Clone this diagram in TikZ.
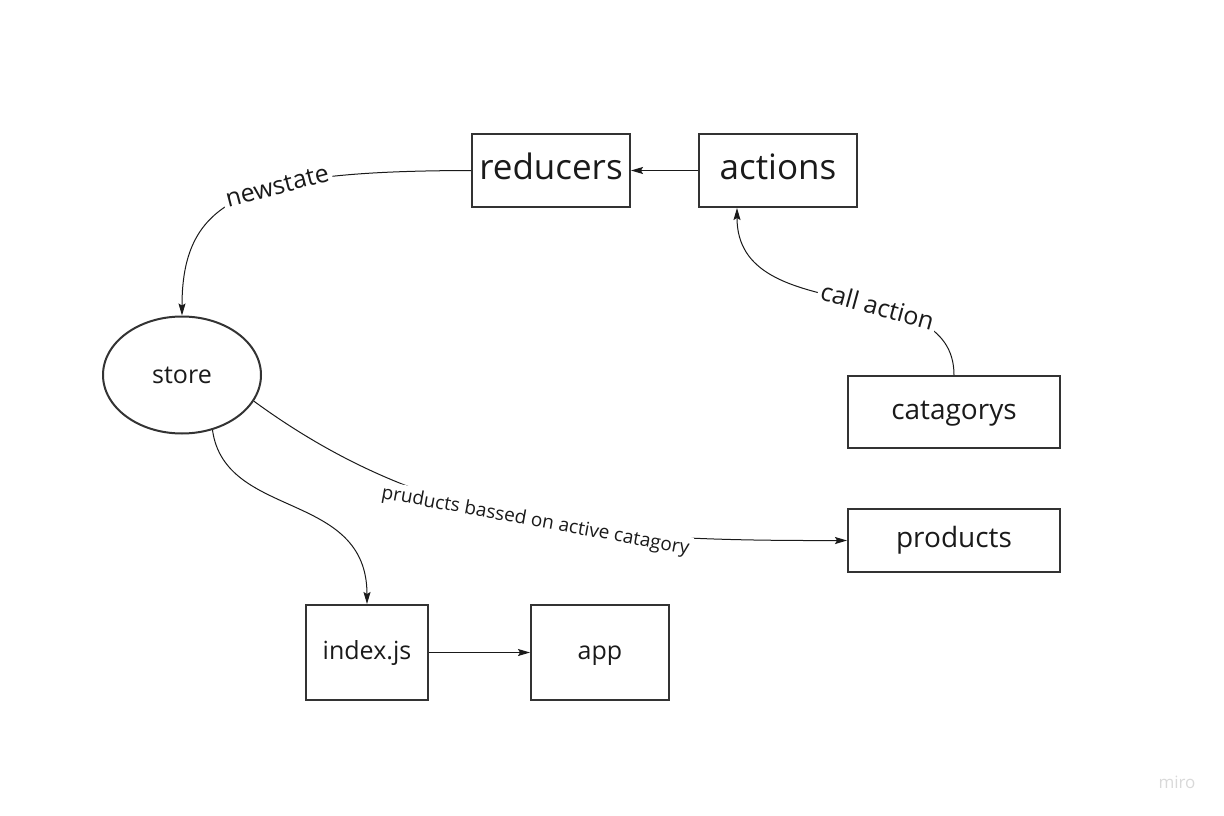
\documentclass[tikz,border=0pt]{standalone}
\usepackage{fontspec}
\setmainfont{Open Sans}
\usepackage{tikz}
\usetikzlibrary{arrows.meta,positioning,shapes.geometric}

\definecolor{inkgray}{HTML}{1A1A1A}
\definecolor{boxgray}{HTML}{333333}

\begin{document}
\begin{tikzpicture}[x=1pt, y=-1pt,
    block/.style={rectangle, draw=boxgray, line width=2pt, inner sep=0pt, text=inkgray},
    blob/.style={ellipse, draw=boxgray, line width=2pt, inner sep=0pt, text=inkgray},
    hugetext/.style={font=\fontsize{35}{40}\selectfont, text height=26.6pt, text depth=8.4pt},
    bigtext/.style={font=\fontsize{28}{32}\selectfont, text height=21.3pt, text depth=6.7pt},
    midtext/.style={font=\fontsize{25}{30}\selectfont, text height=19pt, text depth=6pt},
    lbl/.style={fill=white, inner sep=3pt, text=inkgray, sloped}]

    \useasboundingbox (0,0) rectangle (1224,816);

    % Nodes
    \node[block, hugetext, minimum width=158pt, minimum height=73pt] (reducers) at (551,170.5) {reducers};
    \node[block, hugetext, minimum width=158pt, minimum height=73pt] (actions) at (778,170.5) {actions};
    \node[blob, font=\fontsize{25}{30}\selectfont, minimum width=158pt, minimum height=117pt] (store) at (182,375) {store};
    \node[block, bigtext, minimum width=212pt, minimum height=72pt] (catagorys) at (954,412) {catagorys};
    \node[block, bigtext, minimum width=212pt, minimum height=63pt] (products) at (954,540.5) {products};
    \node[block, midtext, minimum width=122pt, minimum height=95pt] (index) at (367,652.5) {index.js};
    \node[block, midtext, minimum width=138pt, minimum height=95pt] (app) at (600,652.5) {app};
    \node[text=black!15, font=\fontsize{17}{20}\selectfont] (miro) at (1177,782) {miro};

    % Connectors
    \begin{scope}[->, >={Stealth[length=12pt,width=7pt,inset=2pt]}, line width=1pt, draw=inkgray]
        % actions to reducers
        \draw (actions.west) -- (reducers.east);
        % reducers to store
        \draw (reducers.west) .. controls (250,171) and (182,195) .. (store.north)
            node[lbl, pos=0.39, font=\fontsize{25}{30}\selectfont] {newstate};
        % catagorys to actions
        \draw (catagorys.north) .. controls (954,270) and (737,330) .. ([xshift=-41pt]actions.south)
            node[lbl, pos=0.4, font=\fontsize{25}{30}\selectfont] {call action};
        % store to products
        \draw (store.-20) .. controls (430,530) and (600,541) .. (products.west)
            node[lbl, pos=0.52, font=\fontsize{19}{23}\selectfont] {pruducts bassed on active catagory};
        % store to index.js
        \draw (store.-61) .. controls (225,520) and (367,490) .. (index.north);
        % index.js to app
        \draw (index.east) -- (app.west);
    \end{scope}

\end{tikzpicture}
\end{document}
